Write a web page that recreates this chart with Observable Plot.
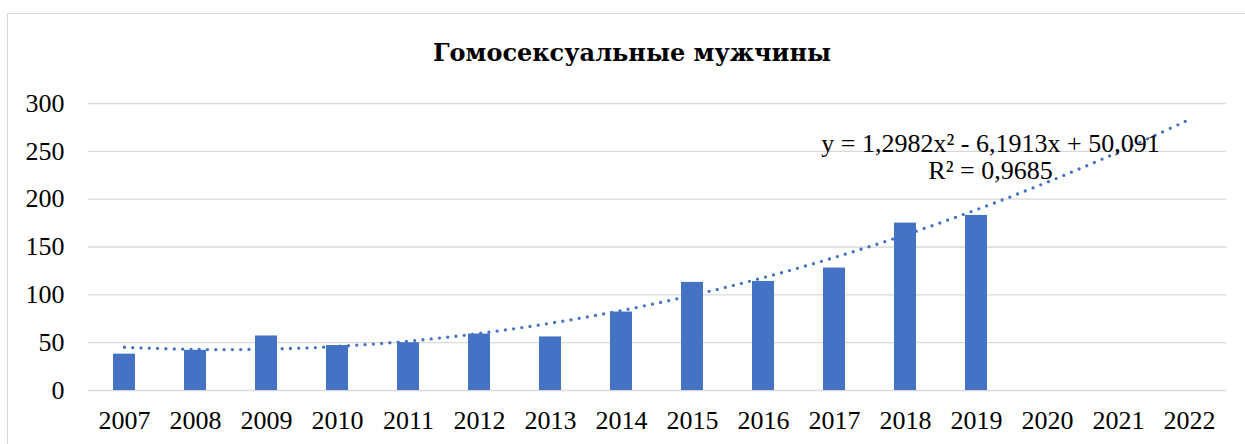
<!DOCTYPE html>
<html>
<head>
<meta charset="utf-8">
<script src="https://cdn.jsdelivr.net/npm/d3@7"></script>
<script src="https://cdn.jsdelivr.net/npm/@observablehq/plot@0.6"></script>
<style>
  html, body { margin: 0; padding: 0; background: #fff; width: 1245px; height: 444px; overflow: hidden; position: relative; }
  #frame { position: absolute; left: 7px; top: 13px; width: 1300px; height: 500px; border: 1.3px solid #d9d9d9; box-sizing: border-box; }
  #title { position: absolute; left: 0; top: 37px; width: 1264px; text-align: center; font-family: "DejaVu Serif", serif; font-weight: 700; font-size: 24px; line-height: 32px; color: #000; }
  #chart { position: absolute; left: 0; top: 80px; }
</style>
</head>
<body>
<div id="frame"></div>
<div id="title">Гомосексуальные мужчины</div>
<div id="chart"></div>
<script>
const years = ["2007","2008","2009","2010","2011","2012","2013","2014","2015","2016","2017","2018","2019","2020","2021","2022"];
const barYears = ["2007","2008","2009","2010","2011","2012","2013","2014","2015","2016","2017","2018","2019"];
const counts = [38, 42, 57, 47, 50, 59, 56, 82, 113, 114, 128, 175, 183];
const yTicks = [0, 50, 100, 150, 200, 250, 300];
// trendline coefficients as displayed on the chart (x = 1..16)
const trendCoef = [1.2982, -6.1913, 50.091];
const equationLines = ["y = 1,2982x² - 6,1913x + 50,091", "R² = 0,9685"];
const equationAnchor = { year: "2019", value: 244 };

const bars = barYears.map((y, i) => ({ year: y, value: counts[i] }));
const trend = years.map((y, i) => {
  const x = i + 1;
  return { year: y, value: trendCoef[0] * x * x + trendCoef[1] * x + trendCoef[2] };
});

const blue = "#4472C4";

const chart = Plot.plot({
  width: 1245,
  height: 364,
  marginLeft: 88,
  marginRight: 19,
  marginTop: 23,
  marginBottom: 54,
  style: { fontFamily: "'Liberation Serif', 'Times New Roman', serif", fontSize: "26px", color: "#000", background: "transparent" },
  x: { type: "band", domain: years, paddingInner: 0.69, paddingOuter: 0.345, label: null },
  y: { domain: [0, 300], label: null },
  marks: [
    Plot.ruleY(yTicks, { stroke: "#d9d9d9", strokeWidth: 1.4 }),
    Plot.barY(bars, { x: "year", y: "value", fill: blue }),
    Plot.line(trend, { x: "year", y: "value", stroke: blue, strokeWidth: 3.3, strokeDasharray: "0,8.3", strokeLinecap: "round", curve: "catmull-rom" }),
    Plot.text([equationAnchor], { x: "year", y: "value", text: () => equationLines.join("\n"), dx: 14, lineHeight: 1.04, lineAnchor: "middle", fontSize: 26, fill: "#000" }),
    Plot.axisY({ ticks: yTicks, tickSize: 0, tickPadding: 24, fontSize: 26, label: null }),
    Plot.axisX({ tickSize: 0, tickPadding: 20.5, fontSize: 26, label: null })
  ]
});
document.getElementById("chart").appendChild(chart);
</script>
</body>
</html>
